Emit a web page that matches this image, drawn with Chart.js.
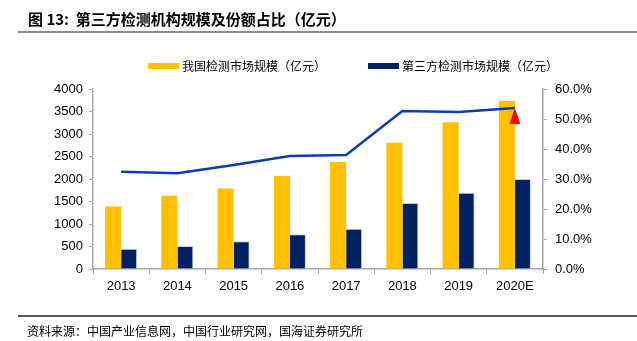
<!DOCTYPE html>
<html>
<head>
<meta charset="utf-8">
<script src="https://cdn.jsdelivr.net/npm/chart.js@4/dist/chart.umd.min.js"></script>
<style>
    body { margin: 0; width: 637px; height: 341px; background: #fff; position: relative; overflow: hidden; }
    #chart-wrap { position: absolute; left: 0; top: 0; width: 637px; height: 341px; }
    .title { position: absolute; left: 28px; top: 8px; font: bold 15px "Noto Sans CJK SC", "Liberation Sans", sans-serif; color: #000; white-space: nowrap; }
    .rule { position: absolute; left: 18px; right: 0; height: 2px; background: #8c8c8c; }
    .legend { position: absolute; top: 57px; font: 12px "Noto Sans CJK SC", sans-serif; color: #000; white-space: nowrap; }
    .legend span.box { position: absolute; top: 6px; width: 31px; height: 6px; }
    .legend span.txt { position: absolute; top: 0; line-height: 18px; }
    .source { position: absolute; left: 27px; top: 322px; font: 12px "Noto Sans CJK SC", sans-serif; color: #000; white-space: nowrap; }
</style>
</head>
<body>
<div id="chart-wrap"><canvas id="chart"></canvas></div>
<div class="title">图 13:&nbsp; 第三方检测机构规模及份额占比（亿元）</div>
<div class="rule" style="top:31px"></div>
<div class="legend" id="legend"></div>
<div class="rule" style="top:315px; height:1.5px; background:#555"></div>
<div class="source">资料来源：中国产业信息网，中国行业研究网，国海证券研究所</div>
<script>
const years = ['2013', '2014', '2015', '2016', '2017', '2018', '2019', '2020E'];
const domesticMarket = [1390, 1630, 1790, 2067, 2378, 2807, 3259, 3741];
const thirdPartyMarket = [450, 510, 615, 770, 896, 1467, 1696, 2000];
const thirdPartyShare = [32.4, 31.9, 34.7, 37.7, 38.0, 52.7, 52.3, 53.7];
const leftTicks = [0, 500, 1000, 1500, 2000, 2500, 3000, 3500, 4000];
const rightTicks = [0, 10, 20, 30, 40, 50, 60];

const YELLOW = '#FFC000';
const NAVY = '#002060';
const LINE_BLUE = '#0B3EA8';
const AXIS = '#A6A6A6';

// legend drawn as html so it lands where the reference has it
const legendItems = [
    { label: '我国检测市场规模（亿元）', color: YELLOW, x: 148 },
    { label: '第三方检测市场规模（亿元）', color: NAVY, x: 368 }
];
const legendEl = document.getElementById('legend');
legendItems.forEach(item => {
    const box = document.createElement('span');
    box.className = 'box';
    box.style.left = item.x + 'px';
    box.style.background = item.color;
    const txt = document.createElement('span');
    txt.className = 'txt';
    txt.style.left = (item.x + 34) + 'px';
    txt.textContent = item.label;
    legendEl.appendChild(box);
    legendEl.appendChild(txt);
});

// red marker under the last point of the share line
const lastPointMarker = {
    id: 'lastPointMarker',
    afterDatasetsDraw(chart) {
        const meta = chart.getDatasetMeta(2);
        const pt = meta.data[meta.data.length - 1];
        if (!pt) return;
        const ctx = chart.ctx;
        ctx.save();
        ctx.fillStyle = '#FF0000';
        ctx.beginPath();
        ctx.moveTo(pt.x, pt.y);
        ctx.lineTo(pt.x + 5.5, pt.y + 16);
        ctx.lineTo(pt.x - 5.5, pt.y + 16);
        ctx.closePath();
        ctx.fill();
        ctx.restore();
    }
};

const tickFont = { family: '"Liberation Sans", Arial, sans-serif', size: 13 };

new Chart(document.getElementById('chart'), {
    type: 'bar',
    data: {
        labels: years,
        datasets: [
            {
                label: '我国检测市场规模（亿元）',
                data: domesticMarket,
                backgroundColor: YELLOW,
                categoryPercentage: 0.57,
                barPercentage: 1.0,
                yAxisID: 'y',
                order: 1
            },
            {
                label: '第三方检测市场规模（亿元）',
                data: thirdPartyMarket,
                backgroundColor: NAVY,
                borderColor: '#c9d0e0',
                borderWidth: { top: 1, right: 1, left: 0, bottom: 0 },
                categoryPercentage: 0.57,
                barPercentage: 1.0,
                yAxisID: 'y',
                order: 1
            },
            {
                type: 'line',
                label: '第三方检测份额占比',
                data: thirdPartyShare,
                borderColor: LINE_BLUE,
                borderWidth: 2.5,
                pointRadius: 0,
                tension: 0,
                yAxisID: 'y1',
                order: 0
            }
        ]
    },
    options: {
        responsive: true,
        maintainAspectRatio: false,
        animation: false,
        layout: { padding: { top: 89, bottom: 42, left: 0, right: 0 } },
        plugins: {
            legend: { display: false },
            tooltip: { enabled: false }
        },
        scales: {
            x: {
                grid: { display: true, drawOnChartArea: false, offset: true, tickLength: 5, color: AXIS },
                border: { color: AXIS, width: 1.5 },
                ticks: { font: tickFont, color: '#000', padding: 5 },
                afterFit: scale => { scale.height = 30; }
            },
            y: {
                position: 'left',
                min: 0,
                max: 4000,
                afterBuildTicks: scale => { scale.ticks = leftTicks.map(v => ({ value: v })); },
                grid: { display: true, drawOnChartArea: false, tickLength: 4, color: AXIS },
                border: { color: AXIS, width: 1.5 },
                ticks: { font: tickFont, color: '#000', padding: 6, callback: v => String(v) },
                afterFit: scale => { scale.width = 93; }
            },
            y1: {
                position: 'right',
                min: 0,
                max: 60,
                afterBuildTicks: scale => { scale.ticks = rightTicks.map(v => ({ value: v })); },
                grid: { display: true, drawOnChartArea: false, tickLength: 4, color: AXIS },
                border: { color: AXIS, width: 1.5 },
                ticks: { font: tickFont, color: '#000', padding: 8, callback: v => v.toFixed(1) + '%' },
                afterFit: scale => { scale.width = 94; }
            }
        }
    },
    plugins: [lastPointMarker]
});
</script>
</body>
</html>
